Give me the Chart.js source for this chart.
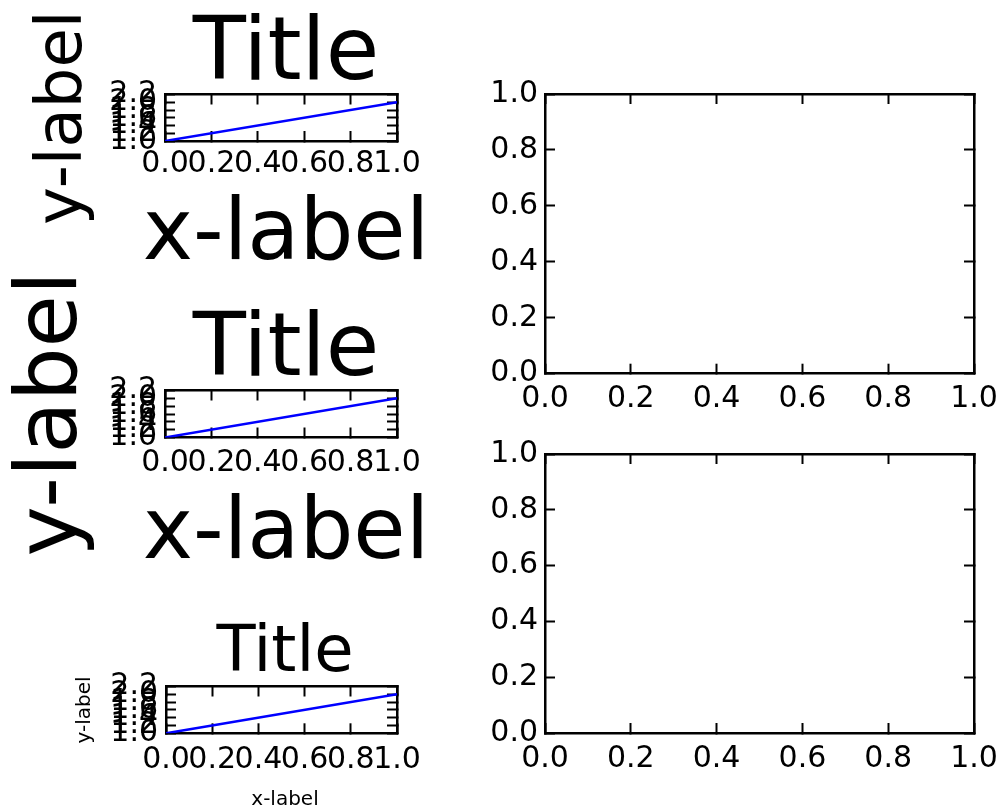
<!DOCTYPE html>
<html>
<head>
<meta charset="utf-8">
<script src="https://cdn.jsdelivr.net/npm/chart.js@4/dist/chart.umd.min.js"></script>
<style>
  html, body { margin: 0; padding: 0; background: #fff; overflow: hidden; }
  #figure { position: relative; width: 1007px; height: 809px; overflow: hidden; }
  #figure canvas { position: absolute; left: 0; top: 0; }
</style>
</head>
<body>
<div id="figure"></div>
<script>
// data: the plotted line and the tick values / labels
const lineX = [0, 1];
const lineY = [1, 2];
const smallXTicks = [0, 0.2, 0.4, 0.6, 0.8, 1];
const smallXLabels = ['0.0', '0.2', '0.4', '0.6', '0.8', '1.0'];
const smallYTicks = [1, 1.2, 1.4, 1.6, 1.8, 2, 2.2];
const smallYLabels = ['1.0', '1.2', '1.4', '1.6', '1.8', '2.0', '2.2'];
const emptyTicks = [0, 0.2, 0.4, 0.6, 0.8, 1];
const emptyLabels = ['0.0', '0.2', '0.4', '0.6', '0.8', '1.0'];
const titleText = 'Title';
const xLabelText = 'x-label';
const yLabelText = 'y-label';

const W = 1007, H = 809;
const FONT = "'DejaVu Sans', sans-serif";
const TICK_SIZE = 30;
const TICK_LEN = 10;
const XH = 50;
const fig = document.getElementById('figure');

// layout of each axes: box = [left, top, right, bottom] in page pixels
// cw = canvas width, chosen so that title and x-label centre at cw / 2
let panels = [
  { box: [165, 94.5, 397, 141], cw: 572, line: true,
    title: 87, titleShift: 5.6, xlabel: 85, xlabelPad: 3.7, ylabel: 64, ylabelPad: 32, xGap: 8.6, yGap: 8 },
  { box: [165, 390.5, 397, 437.5], cw: 572, line: true,
    title: 87, titleShift: 5.6, xlabel: 85, xlabelPad: 6.2, ylabel: 85, ylabelPad: 11.7, xGap: 10.8, yGap: 8 },
  { box: [166, 686.5, 397, 733.3], cw: 570, line: true,
    title: 64, titleShift: -0.4, xlabel: 20, xlabelPad: 6, ylabel: 20, ylabelPad: 75, xGap: 11.6, yGap: 8 },
  { box: [545, 94, 974, 373.7], line: false, xGap: 10.9, yGap: 7 },
  { box: [545, 454, 974, 733], line: false, xGap: 11.6, yGap: 7 }
];

function fixTicks(values) {
  return function (scale) {
    scale.ticks = values.map(v => ({ value: v }));
  };
}

function fixSize(prop, size) {
  return function (scale) {
    scale[prop] = size;
    scale.paddingLeft = 0;
    scale.paddingRight = 0;
    scale.paddingTop = 0;
    scale.paddingBottom = 0;
  };
}

function addAxes(p) {
  let [L, T, R, B] = p.box,
      cw = p.cw || W,
      xTicks = p.line ? smallXTicks : emptyTicks,
      xLabels = p.line ? smallXLabels : emptyLabels,
      yTicks = p.line ? smallYTicks : emptyTicks,
      yLabels = p.line ? smallYLabels : emptyLabels,
      yMin = yTicks[0], yMax = yTicks[yTicks.length - 1],
      titleH = p.title || 0,
      subH = p.xlabel ? p.xlabel + p.xlabelPad : 0;

  let canvas = document.createElement('canvas');
  canvas.width = cw;
  canvas.height = H;
  canvas.style.width = cw + 'px';
  canvas.style.height = H + 'px';
  fig.appendChild(canvas);

  let grid = { drawOnChartArea: false, tickLength: -TICK_LEN, tickWidth: 2, tickColor: '#000' };
  let border = { display: true, color: '#000', width: 2.5 };
  let tickFont = { family: FONT, size: TICK_SIZE, lineHeight: 1 };

  let datasets = [];
  if (p.line) {
    datasets.push({
      data: lineX.map((x, i) => ({ x: x, y: lineY[i] })),
      borderColor: '#0000ff',
      borderWidth: 2.5,
      pointRadius: 0,
      fill: false,
      tension: 0
    });
  }

  new Chart(canvas, {
    type: 'line',
    data: { datasets: datasets },
    options: {
      responsive: false,
      animation: false,
      devicePixelRatio: 1,
      layout: {
        padding: { left: 0, right: 0, top: T - titleH, bottom: H - B - XH - subH }
      },
      plugins: {
        legend: { display: false },
        tooltip: { enabled: false },
        title: {
          display: !!p.title,
          text: titleText,
          color: '#000',
          font: { family: FONT, size: p.title || 12, weight: 'normal', lineHeight: 1 },
          padding: { top: p.titleShift || 0, bottom: -(p.titleShift || 0) }
        },
        subtitle: {
          display: !!p.xlabel,
          position: 'bottom',
          text: xLabelText,
          color: '#000',
          font: { family: FONT, size: p.xlabel || 12, weight: 'normal', lineHeight: 1 },
          padding: { top: p.xlabelPad || 0, bottom: 0 }
        }
      },
      scales: {
        x: {
          type: 'linear', position: 'bottom', min: 0, max: 1,
          afterBuildTicks: fixTicks(xTicks),
          afterFit: fixSize('height', XH),
          grid: grid, border: border,
          ticks: {
            autoSkip: false, maxRotation: 0, minRotation: 0,
            padding: p.xGap + TICK_LEN, color: '#000', font: tickFont,
            callback: (v, i) => xLabels[i]
          }
        },
        y: {
          type: 'linear', position: 'left', min: yMin, max: yMax,
          afterBuildTicks: fixTicks(yTicks),
          afterFit: fixSize('width', L),
          grid: grid, border: border,
          ticks: {
            autoSkip: false,
            padding: p.yGap + TICK_LEN, color: '#000', font: tickFont,
            callback: (v, i) => yLabels[i]
          },
          title: {
            display: !!p.ylabel,
            text: yLabelText,
            color: '#000',
            font: { family: FONT, size: p.ylabel || 12, lineHeight: 1 },
            padding: { top: p.ylabelPad || 0, bottom: 0 }
          }
        },
        x2: {
          type: 'linear', position: 'top', min: 0, max: 1,
          afterBuildTicks: fixTicks(xTicks),
          afterFit: fixSize('height', 0),
          grid: grid, border: border,
          ticks: { display: false }
        },
        y2: {
          type: 'linear', position: 'right', min: yMin, max: yMax,
          afterBuildTicks: fixTicks(yTicks),
          afterFit: fixSize('width', cw - R),
          grid: grid, border: border,
          ticks: { display: false }
        }
      }
    }
  });
}

panels.forEach(addAxes);
</script>
</body>
</html>
